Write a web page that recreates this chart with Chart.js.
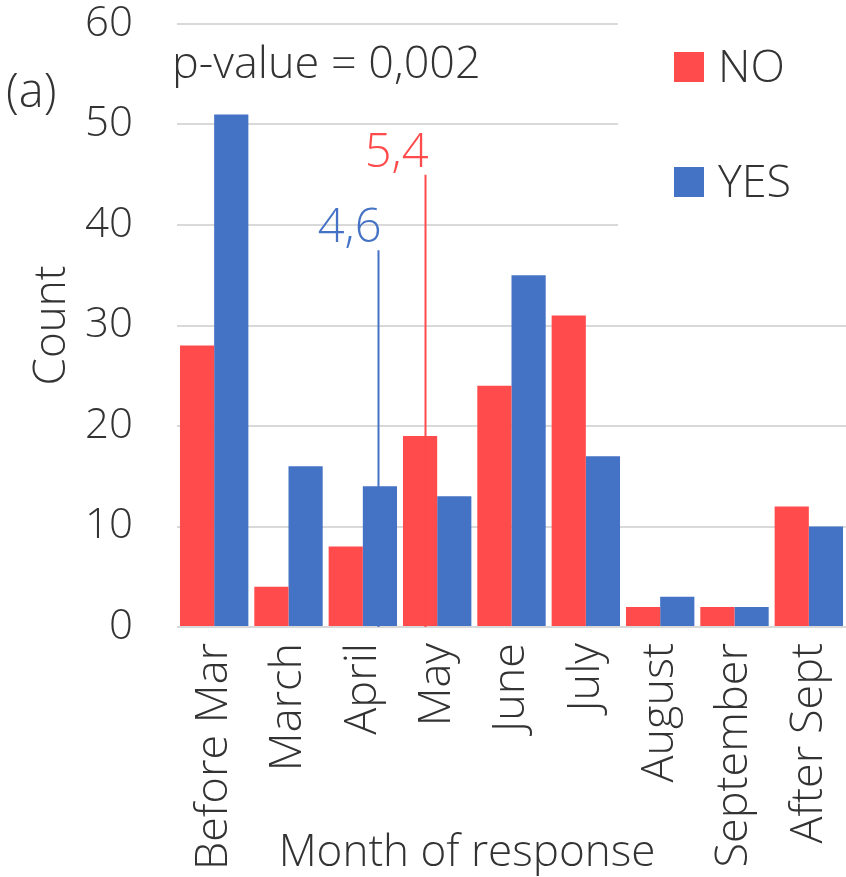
<!DOCTYPE html>
<html>
<head>
<meta charset="utf-8">
<script src="https://cdn.jsdelivr.net/npm/chart.js@4/dist/chart.umd.min.js"></script>
<style>
  html, body { margin: 0; padding: 0; background: #fff; }
  #wrap { width: 846px; height: 877px; }
</style>
</head>
<body>
<div id="wrap"><canvas id="responseChart"></canvas></div>
<script>
// Data
const months = ['Before Mar', 'March', 'April', 'May', 'June', 'July', 'August', 'September', 'After Sept'];
const noCounts = [28, 4, 8, 19, 24, 31, 2, 2, 12];
const yesCounts = [51, 16, 14, 13, 35, 17, 3, 2, 10];
const yTickStep = 10;
const yMax = 60;

// Mean month markers (position along the month axis, marker height, label)
const meanSeries = ['NO', 'YES'];
const meanPosition = [2.84, 2.2];
const meanTop = [45, 37.5];
const meanLabels = ['5,4', '4,6'];

const pValueText = 'p-value = 0,002';
const panelText = '(a)';

const colors = { NO: '#FF4B4B', YES: '#4472C4' };
const textColor = '#333333';
const fontFamily = '"Open Sans", "Liberation Sans", Arial, sans-serif';
const fontWeight = '300';

// Extra drawing: mean lines, legend, p-value, panel letter, x title
const annotationPlugin = {
    id: 'annotations',
    afterDraw(chart) {
        const { ctx, chartArea, scales: { x, y } } = chart;
        ctx.save();

        // Mean lines with labels
        meanSeries.forEach((s, i) => {
            const px = Math.round(x.getPixelForValue(meanPosition[i])) + 0.5;
            const top = y.getPixelForValue(meanTop[i]);
            const base = y.getPixelForValue(0);
            ctx.strokeStyle = colors[s];
            ctx.lineWidth = 2;
            ctx.beginPath();
            ctx.moveTo(px, base);
            ctx.lineTo(px, top);
            ctx.stroke();
            ctx.fillStyle = colors[s];
            ctx.font = fontWeight + ' 47px ' + fontFamily;
            ctx.textAlign = 'right';
            ctx.textBaseline = 'alphabetic';
            ctx.fillText(meanLabels[i], px + 3, top - 8);
        });

        // Legend box covers the grid lines
        ctx.fillStyle = '#fff';
        ctx.fillRect(chartArea.right - 228, chartArea.top - 15, 228, 225);
        ctx.font = fontWeight + ' 45px ' + fontFamily;
        ctx.textAlign = 'left';
        ctx.textBaseline = 'middle';
        meanSeries.forEach((s, i) => {
            const cy = 67 + i * 115;
            ctx.fillStyle = colors[s];
            ctx.fillRect(674, cy - 15, 30, 30);
            ctx.fillStyle = textColor;
            ctx.fillText(s, 718, cy + 2);
        });

        // p-value and panel letter
        ctx.fillStyle = textColor;
        ctx.textBaseline = 'alphabetic';
        ctx.font = fontWeight + ' 45px ' + fontFamily;
        ctx.fillText(pValueText, 172, 78);
        ctx.font = fontWeight + ' 47px ' + fontFamily;
        ctx.fillText(panelText, 6, 107);

        // x axis title
        ctx.font = fontWeight + ' 44px ' + fontFamily;
        ctx.textAlign = 'center';
        ctx.fillText('Month of response', 467, 866);

        ctx.restore();
    }
};

new Chart(document.getElementById('responseChart'), {
    type: 'bar',
    data: {
        labels: months,
        datasets: [
            { label: 'NO', data: noCounts, backgroundColor: colors.NO, borderWidth: 0 },
            { label: 'YES', data: yesCounts, backgroundColor: colors.YES, borderWidth: 0 }
        ]
    },
    options: {
        responsive: true,
        maintainAspectRatio: false,
        animation: false,
        devicePixelRatio: 1,
        categoryPercentage: 0.92,
        barPercentage: 1.0,
        layout: { padding: { top: 24, right: 0, bottom: 0, left: 0 } },
        plugins: {
            legend: { display: false },
            tooltip: { enabled: false }
        },
        scales: {
            x: {
                grid: { display: false },
                border: { display: false },
                ticks: {
                    color: textColor,
                    font: { family: fontFamily, size: 45, weight: fontWeight },
                    minRotation: 90,
                    maxRotation: 90,
                    autoSkip: false,
                    padding: 8
                },
                afterFit: scale => {
                    scale.height = 250;
                    scale.paddingLeft = 0;
                    scale.paddingRight = 0;
                }
            },
            y: {
                min: 0,
                max: yMax,
                grid: { color: '#d9d9d9', lineWidth: 2, drawTicks: false },
                border: { display: false },
                ticks: {
                    stepSize: yTickStep,
                    color: textColor,
                    font: { family: fontFamily, size: 42, weight: fontWeight },
                    padding: 44
                },
                title: {
                    display: true,
                    text: 'Count',
                    color: textColor,
                    font: { family: fontFamily, size: 44, weight: fontWeight },
                    padding: { top: 26, bottom: 0 }
                },
                afterFit: scale => {
                    scale.width = 177;
                    scale.paddingTop = 0;
                    scale.paddingBottom = 0;
                }
            }
        }
    },
    plugins: [annotationPlugin]
});
</script>
</body>
</html>
